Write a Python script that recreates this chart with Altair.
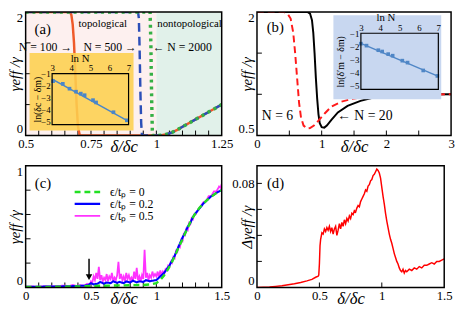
import altair as alt
import pandas as pd

FONT = "Liberation Serif"

# ---------------- panel (a) ----------------
a_n100_x = [0.5, 0.67, 0.675, 0.68, 0.685, 0.69, 0.695, 0.70, 0.707, 0.85, 1.0, 1.02, 1.04, 1.06, 1.08, 1.10, 1.15, 1.20, 1.25]
a_n100_y = [2.0, 2.0, 1.95, 1.8, 1.5, 1.0, 0.5, 0.15, 0.0, 0.0, 0.0, 0.005, 0.02, 0.05, 0.09, 0.14, 0.26, 0.38, 0.5]
a_n500_x = [0.5, 0.930, 0.933, 0.936, 0.939, 0.942, 0.945, 1.0, 1.02, 1.04, 1.06, 1.08, 1.10, 1.15, 1.20, 1.25]
a_n500_y = [2.0, 2.0, 1.9, 1.4, 0.7, 0.2, 0.0, 0.0, 0.005, 0.02, 0.05, 0.09, 0.14, 0.26, 0.38, 0.5]
a_n2000_x = [0.5, 0.976, 0.979, 0.982, 0.985, 1.0, 1.02, 1.04, 1.06, 1.08, 1.10, 1.15, 1.20, 1.25]
a_n2000_y = [2.0, 2.0, 1.5, 0.6, 0.0, 0.0, 0.005, 0.02, 0.05, 0.09, 0.14, 0.26, 0.38, 0.5]
a_xlabels = [0.5, 0.75, 1, 1.25]
a_ylabels = [0, 2]
a_xticks = [0.55, 0.6, 0.65, 0.7, 0.75, 0.8, 0.85, 0.9, 0.95, 1.0, 1.05, 1.1, 1.15, 1.2]
a_yticks = [0.5, 1.0, 1.5]
a_ins_lnN = [3.05, 3.56, 3.91, 4.25, 4.50, 4.70, 5.14, 5.30, 6.21, 6.91]
a_ins_val = [-1.62, -1.84, -2.24, -2.49, -2.65, -2.78, -3.19, -3.38, -4.19, -4.86]
a_fit_lnN = [3, 7]
a_fit_val = [-1.45, -4.95]
a_ins_labels = [3, 4, 5, 6, 7]
a_ins_ylabels = [-1, -2, -3, -4, -5]

# ---------------- panel (b) ----------------
b_n20_x = [0.0, 0.78, 0.82, 0.85, 0.87, 0.89, 0.91, 0.93, 0.95, 0.97, 1.0, 1.04, 1.08, 1.15, 1.25, 1.4, 1.6, 1.8, 2.1, 2.5, 3.0]
b_n20_y = [2.0, 2.0, 1.98, 1.9, 1.75, 1.5, 1.2, 0.95, 0.76, 0.65, 0.6, 0.595, 0.62, 0.69, 0.78, 0.86, 0.92, 0.96, 0.985, 0.997, 1.0]
b_n6_x = [0.0, 0.42, 0.47, 0.52, 0.56, 0.59, 0.62, 0.65, 0.68, 0.72, 0.77, 0.82, 0.88, 0.95, 1.05, 1.15, 1.3, 1.5, 1.8, 2.2, 3.0]
b_n6_y = [2.0, 2.0, 1.98, 1.92, 1.75, 1.5, 1.2, 0.9, 0.72, 0.62, 0.585, 0.59, 0.62, 0.68, 0.77, 0.85, 0.91, 0.95, 0.98, 0.995, 1.0]
b_xlabels = [0, 1, 2, 3]
b_ylabels = [0.5, 2]
b_xticks = [0.5, 1.0, 1.5, 2.0, 2.5]
b_yticks = [1.0, 1.5]
b_ins_lnN = [3.0, 3.29, 3.9, 4.1, 4.41, 4.64, 5.14, 5.41, 6.22, 6.95]
b_ins_val = [-1.8, -1.95, -2.3, -2.4, -2.6, -2.72, -3.1, -3.25, -3.85, -4.27]
b_fit_lnN = [3, 7]
b_fit_val = [-1.78, -4.3]
b_ins_labels = [3, 4, 5, 6, 7]
b_ins_ylabels = [-1, -2, -3, -4, -5]

# ---------------- panel (c) ----------------
c_labels = ["ϵ/tₚ = 0", "ϵ/tₚ = 0.2", "ϵ/tₚ = 0.5"]
c_g_x = [0.0, 0.2, 0.4, 0.5, 0.6, 0.7, 0.8, 0.9, 0.95, 1.0, 1.03, 1.06, 1.09, 1.12, 1.15, 1.18, 1.21, 1.24, 1.27, 1.30, 1.33, 1.36, 1.40, 1.45, 1.50]
c_g_y = [0.003, 0.005, 0.008, 0.012, 0.014, 0.016, 0.018, 0.02, 0.024, 0.035, 0.06, 0.1, 0.15, 0.21, 0.28, 0.35, 0.42, 0.49, 0.56, 0.61, 0.655, 0.69, 0.73, 0.77, 0.80]
c_b_x = [0.0, 0.05, 0.10, 0.15, 0.20, 0.25, 0.30, 0.35, 0.40, 0.45, 0.48, 0.50, 0.52, 0.55, 0.57, 0.60, 0.62, 0.65, 0.67, 0.70, 0.72, 0.75, 0.77, 0.80, 0.82, 0.85, 0.87, 0.90, 0.92, 0.95, 0.97, 1.00, 1.02, 1.04, 1.06, 1.08, 1.10, 1.12, 1.14, 1.16, 1.18, 1.20, 1.22, 1.24, 1.26, 1.28, 1.30, 1.33, 1.36, 1.39, 1.42, 1.45, 1.48, 1.50]
c_b_y = [0.005, 0.006, 0.005, 0.007, 0.008, 0.007, 0.009, 0.01, 0.012, 0.014, 0.02, 0.035, 0.025, 0.03, 0.045, 0.03, 0.04, 0.035, 0.05, 0.038, 0.045, 0.035, 0.05, 0.04, 0.055, 0.042, 0.05, 0.045, 0.06, 0.05, 0.055, 0.06, 0.08, 0.10, 0.12, 0.15, 0.18, 0.22, 0.26, 0.31, 0.36, 0.41, 0.45, 0.50, 0.53, 0.58, 0.61, 0.65, 0.69, 0.72, 0.75, 0.77, 0.79, 0.80]
c_m_x = [0.00, 0.05, 0.10, 0.15, 0.20, 0.25, 0.30, 0.33, 0.36, 0.39, 0.42, 0.45, 0.47, 0.49, 0.50, 0.51, 0.52, 0.53, 0.54, 0.55, 0.56, 0.57, 0.58, 0.59, 0.60,
         0.61, 0.62, 0.63, 0.64, 0.65, 0.66, 0.67, 0.68, 0.69, 0.70, 0.71, 0.72, 0.73, 0.74, 0.75, 0.76, 0.77, 0.78, 0.79, 0.80,
         0.81, 0.82, 0.83, 0.84, 0.85, 0.86, 0.87, 0.88, 0.89, 0.90, 0.91, 0.92, 0.93, 0.94, 0.95, 0.96, 0.97, 0.98, 0.99, 1.00,
         1.01, 1.02, 1.03, 1.04, 1.05, 1.06, 1.07, 1.08, 1.09, 1.10, 1.11, 1.12, 1.13, 1.14, 1.15, 1.16, 1.17, 1.18, 1.19, 1.20,
         1.21, 1.22, 1.23, 1.24, 1.25, 1.26, 1.27, 1.28, 1.29, 1.30, 1.32, 1.34, 1.36, 1.38, 1.40, 1.42, 1.44, 1.46, 1.48, 1.49, 1.50]
c_m_y = [0.005, 0.008, 0.006, 0.01, 0.008, 0.012, 0.015, 0.01, 0.02, 0.012, 0.018, 0.015, 0.03, 0.02, 0.05, 0.04, 0.09, 0.06, 0.12, 0.07, 0.17, 0.06, 0.10, 0.05, 0.08,
         0.06, 0.11, 0.05, 0.09, 0.07, 0.12, 0.05, 0.08, 0.06, 0.10, 0.21, 0.07, 0.11, 0.06, 0.09, 0.05, 0.12, 0.07, 0.10, 0.06,
         0.08, 0.05, 0.13, 0.07, 0.16, 0.06, 0.09, 0.05, 0.10, 0.07, 0.31, 0.08, 0.12, 0.06, 0.10, 0.08, 0.13, 0.09, 0.11, 0.09,
         0.13, 0.08, 0.14, 0.10, 0.13, 0.11, 0.15, 0.14, 0.18, 0.17, 0.21, 0.20, 0.25, 0.24, 0.30, 0.29, 0.34, 0.33, 0.39, 0.38,
         0.44, 0.43, 0.48, 0.47, 0.53, 0.52, 0.57, 0.56, 0.60, 0.60, 0.64, 0.67, 0.70, 0.71, 0.75, 0.75, 0.79, 0.79, 0.83, 0.82, 0.85]
c_xlabels = [0, 0.5, 1, 1.5]
c_ylabels = [0, 1]
c_xticks = [0.1, 0.2, 0.3, 0.4, 0.5, 0.6, 0.7, 0.8, 0.9, 1.0, 1.1, 1.2, 1.3, 1.4]
c_yticks = [0.2, 0.4, 0.6, 0.8]

# ---------------- panel (d) ----------------
d_x = [0.00, 0.05, 0.10, 0.15, 0.20, 0.25, 0.30, 0.35, 0.40, 0.44, 0.47, 0.49, 0.495, 0.50, 0.505, 0.51,
       0.52, 0.53, 0.54, 0.55, 0.56, 0.57, 0.58, 0.59, 0.60, 0.61, 0.62, 0.63, 0.64, 0.65, 0.66, 0.67, 0.68, 0.69, 0.70,
       0.71, 0.72, 0.73, 0.74, 0.75, 0.76, 0.77, 0.78, 0.79, 0.80, 0.81, 0.82, 0.83, 0.84, 0.85, 0.86, 0.87, 0.88, 0.89, 0.90,
       0.91, 0.92, 0.93, 0.94, 0.95, 0.96, 0.97, 0.98, 0.99, 1.00, 1.01, 1.02, 1.03, 1.04, 1.05, 1.06, 1.07, 1.08, 1.09, 1.10,
       1.11, 1.12, 1.13, 1.14, 1.15, 1.16, 1.17, 1.18, 1.19, 1.20, 1.22, 1.24, 1.26, 1.28, 1.30, 1.32, 1.34, 1.36, 1.38, 1.40,
       1.42, 1.44, 1.46, 1.48, 1.50]
d_y = [0.0, 0.0002, 0.0004, 0.0008, 0.0013, 0.0020, 0.0028, 0.0038, 0.0050, 0.0062, 0.0078, 0.0086, 0.0095, 0.018, 0.032, 0.037,
       0.042, 0.041, 0.045, 0.043, 0.046, 0.044, 0.047, 0.043, 0.046, 0.041, 0.045, 0.047, 0.040, 0.044, 0.049, 0.045, 0.050, 0.047, 0.052,
       0.049, 0.053, 0.051, 0.055, 0.053, 0.057, 0.056, 0.059, 0.058, 0.061, 0.063, 0.062, 0.066, 0.068, 0.070, 0.072, 0.075, 0.074, 0.078, 0.079,
       0.082, 0.083, 0.086, 0.087, 0.089, 0.091, 0.090, 0.088, 0.084, 0.077, 0.070, 0.064, 0.057, 0.051, 0.046, 0.041, 0.037, 0.034, 0.030, 0.026,
       0.023, 0.020, 0.018, 0.015, 0.013, 0.012, 0.014, 0.011, 0.013, 0.012, 0.014, 0.013, 0.015, 0.014, 0.016, 0.015, 0.017, 0.017, 0.018, 0.019,
       0.018, 0.020, 0.020, 0.021, 0.022]
d_xlabels = [0, 0.5, 1, 1.5]
d_ylabels = [0, 0.08]
d_xticks = [0.5, 1.0]
d_yticks = [0.02, 0.04, 0.06, 0.08]

FMT = ".3~g"


def D(**kw):
    return pd.DataFrame(kw)


def xy(xs, xax, ys, yax):
    X = lambda f: alt.X(f, type="quantitative", scale=xs, axis=xax)
    Y = lambda f: alt.Y(f, type="quantitative", scale=ys, axis=yax)
    return X, Y


def line(x, y, X, Y, **style):
    return alt.Chart(D(x=x, y=y)).mark_line(**style).encode(x=X("x"), y=Y("y"))


def rect(x0, x1, y0, y1, X, Y, **style):
    return alt.Chart(D(x0=[x0], x1=[x1], y0=[y0], y1=[y1])).mark_rect(**style).encode(
        x=X("x0"), x2="x1", y=Y("y0"), y2="y1")


def frame(x0, x1, y0, y1, X, Y, w=1.5):
    return rect(x0, x1, y0, y1, X, Y, fillOpacity=0, stroke="black", strokeWidth=w)


def text(xs, ys, ts, X, Y, **style):
    return alt.Chart(D(x=xs, y=ys, t=ts)).mark_text(font=FONT, color="black", **style).encode(
        x=X("x"), y=Y("y"), text="t:N")


def xticks(vals, X, H):
    return alt.Chart(D(t=vals)).mark_rule(color="black", strokeWidth=1).encode(
        x=X("t"), y=alt.value(H), y2=alt.value(H - 5))


def yticks(vals, Y):
    return alt.Chart(D(t=vals)).mark_rule(color="black", strokeWidth=1).encode(
        y=Y("t"), x=alt.value(0), x2=alt.value(5))


def xaxis(vals, title):
    return alt.Axis(values=vals, format=FMT, title=title, titleY=3, titleBaseline="top",
                    labelFlush=False, titleFontSize=17, titleFontStyle="italic")


def yaxis(vals, title):
    return alt.Axis(values=vals, format=FMT, title=title, titleX=-3, titleBaseline="bottom",
                    labelFlush=True, titleFontSize=15, titleFontStyle="italic")


def inset_axes(xr0, ytop, title_y, tx, lnx):
    ax = alt.Axis(orient="top", offset=-ytop, values=[3, 4, 5, 6, 7], format=FMT, labelFontSize=9,
                  labelPadding=1, title="ln N", titleFontSize=11, titleX=lnx, titleY=-10.5,
                  titleBaseline="bottom", labelFlush=False, titleFontStyle="normal", zindex=2)
    ay = alt.Axis(orient="left", offset=-xr0, values=[-1, -2, -3, -4, -5], format=FMT, labelFontSize=9,
                  labelPadding=2, title=title_y, titleFontSize=10, titleX=tx, titleBaseline="bottom",
                  labelFlush=False, titleFontStyle="normal", zindex=2)
    return ax, ay


# ---------------- build (a) ----------------
WA, HA = 200, 126
XA, YA = xy(alt.Scale(domain=[0.5, 1.25], nice=False, zero=False), xaxis(a_xlabels, "δ/δc"),
            alt.Scale(domain=[0, 2], nice=False, zero=False), yaxis(a_ylabels, "γeff /γ"))
main_a = alt.layer(
    rect(0.5, 1.0, 0, 2, XA, YA, color="#fdf0ef"),
    rect(1.0, 1.25, 0, 2, XA, YA, color="#e1f1ea"),
    xticks(a_xticks, XA, HA),
    yticks(a_yticks, YA),
    line(a_n100_x, a_n100_y, XA, YA, color="#ef5a2a", strokeWidth=2.5, clip=True),
    line(a_n500_x, a_n500_y, XA, YA, color="#2c4fb8", strokeWidth=2.5, strokeDash=[9, 5], clip=True),
    line(a_n2000_x, a_n2000_y, XA, YA, color="#35b045", strokeWidth=3.5, strokeDash=[3, 4], clip=True),
    text([0.534], [1.72], ["(a)"], XA, YA, align="left", baseline="middle", fontSize=15),
    text([0.795, 1.127], [1.8, 1.8], ["topological", "nontopological"], XA, YA, align="center",
         baseline="middle", fontSize=11),
    text([0.678, 0.925], [1.43, 1.43], ["N = 100 →", "N = 500 →"], XA, YA, align="right",
         baseline="middle", fontSize=12),
    text([0.986], [1.43], ["← N = 2000"], XA, YA, align="left", baseline="middle", fontSize=12),
    frame(0.5, 1.25, 0, 2, XA, YA),
)
iax, iay = inset_axes(27, 63, "ln(δc − δm)", -10, 55)
IXA, IYA = xy(alt.Scale(domain=[3, 7], range=[27, 105], nice=False, zero=False), iax,
              alt.Scale(domain=[-5.22, -1], range=[115, 63], nice=False, zero=False), iay)
inset_a = alt.layer(
    rect(1.82, 7.26, -5.71, 0.71, IXA, IYA, color="#fdcf4f", opacity=0.88),
    line(a_fit_lnN, a_fit_val, IXA, IYA, color="#4a86c8", strokeWidth=1.5),
    alt.Chart(D(x=a_ins_lnN, y=a_ins_val)).mark_point(shape="square", filled=True, size=14,
                                                      color="#4a86c8", opacity=1).encode(x=IXA("x"), y=IYA("y")),
    frame(3, 7, -5.22, -1, IXA, IYA, w=1.2),
)
panel_a = alt.layer(main_a, inset_a).resolve_scale(x="independent", y="independent").properties(
    width=WA, height=HA)

# ---------------- build (b) ----------------
WB, HB = 198, 126
XB, YB = xy(alt.Scale(domain=[0, 3], nice=False, zero=False), xaxis(b_xlabels, "δ/δc"),
            alt.Scale(domain=[0.5, 2], nice=False, zero=False), yaxis(b_ylabels, "γeff /γ"))
main_b = alt.layer(
    xticks(b_xticks, XB, HB),
    yticks(b_yticks, YB),
    line(b_n20_x, b_n20_y, XB, YB, color="black", strokeWidth=2, clip=True),
    line(b_n6_x, b_n6_y, XB, YB, color="#ff1a1a", strokeWidth=2, strokeDash=[7, 4], clip=True),
    text([0.15], [1.81], ["(b)"], XB, YB, align="left", baseline="middle", fontSize=15),
    text([0.075], [0.74], ["N = 6"], XB, YB, align="left", baseline="middle", fontSize=14),
    text([1.24], [0.74], ["← N = 20"], XB, YB, align="left", baseline="middle", fontSize=14),
    frame(0, 3, 0.5, 2, XB, YB),
)
ibx, iby = inset_axes(106, 21.7, "ln(δ′m − δm)", -15.5, 131)
IXB, IYB = xy(alt.Scale(domain=[3, 7], range=[106, 185], nice=False, zero=False), ibx,
              alt.Scale(domain=[-5.3, -1], range=[79, 21.7], nice=False, zero=False), iby)
inset_b = alt.layer(
    rect(1.58, 7.15, -6.05, 0.38, IXB, IYB, color="#c8d7f0"),
    line(b_fit_lnN, b_fit_val, IXB, IYB, color="#4f86c6", strokeWidth=1.5),
    alt.Chart(D(x=b_ins_lnN, y=b_ins_val)).mark_point(shape="square", filled=True, size=14,
                                                      color="#4f86c6", opacity=1).encode(x=IXB("x"), y=IYB("y")),
    frame(3, 7, -5.3, -1, IXB, IYB, w=1.2),
)
panel_b = alt.layer(main_b, inset_b).resolve_scale(x="independent", y="independent").properties(
    width=WB, height=HB)

# ---------------- build (c) ----------------
WC, HC = 200, 124
XC, YC = xy(alt.Scale(domain=[0, 1.5], nice=False, zero=False), xaxis(c_xlabels, "δ/δc"),
            alt.Scale(domain=[0, 1], nice=False, zero=False), yaxis(c_ylabels, "γeff /γ"))
col = alt.Color("s:N", scale=alt.Scale(domain=c_labels, range=["#22e022", "#0000ff", "#ff33ff"]), legend=None)
dsh = alt.StrokeDash("s:N", scale=alt.Scale(domain=c_labels, range=[[6, 4], [1, 0], [1, 0]]), legend=None)
wid = alt.StrokeWidth("s:N", scale=alt.Scale(domain=c_labels, range=[2.4, 1.8, 1.6]), legend=None)


def cline(x, y, lab):
    return alt.Chart(D(x=x, y=y, s=[lab] * len(x))).mark_line(clip=True).encode(
        x=XC("x"), y=YC("y"), color=col, strokeDash=dsh, strokeWidth=wid)


legend_rows = alt.Chart(D(x=[0.375] * 3, x2=[0.57] * 3, y=[0.785, 0.687, 0.589], s=c_labels)).mark_rule().encode(
    x=XC("x"), x2="x2", y=YC("y"), color=col, strokeDash=dsh, strokeWidth=wid)
legend_text = text([0.645] * 3, [0.785, 0.687, 0.589], c_labels, XC, YC, align="left", baseline="middle",
                   fontSize=12)

panel_c = alt.layer(
    xticks(c_xticks, XC, HC),
    yticks(c_yticks, YC),
    cline(c_m_x, c_m_y, c_labels[2]),
    cline(c_b_x, c_b_y, c_labels[1]),
    cline(c_g_x, c_g_y, c_labels[0]),
    legend_rows,
    legend_text,
    alt.Chart(D(x=[0.485], y=[0.235], y2=[0.1])).mark_rule(color="black", strokeWidth=1.5).encode(
        x=XC("x"), y=YC("y"), y2="y2"),
    alt.Chart(D(x=[0.485], y=[0.085])).mark_point(shape="triangle-down", filled=True, size=45,
                                                 color="black", opacity=1).encode(x=XC("x"), y=YC("y")),
    text([0.07], [0.86], ["(c)"], XC, YC, align="left", baseline="middle", fontSize=15),
    frame(0, 1.5, 0, 1, XC, YC),
).properties(width=WC, height=HC)

# ---------------- build (d) ----------------
WD, HD = 191, 124
XD, YD = xy(alt.Scale(domain=[0, 1.5], nice=False, zero=False), xaxis(d_xlabels, "δ/δc"),
            alt.Scale(domain=[0, 0.0935], nice=False, zero=False), yaxis(d_ylabels, "Δγeff /γ"))
panel_d = alt.layer(
    xticks(d_xticks, XD, HD),
    yticks(d_yticks, YD),
    line(d_x, d_y, XD, YD, color="#ff0000", strokeWidth=1.5, clip=True),
    text([0.08], [0.080], ["(d)"], XD, YD, align="left", baseline="middle", fontSize=15),
    frame(0, 1.5, 0, 0.0935, XD, YD),
).properties(width=WD, height=HD)

chart = alt.concat(
    panel_a, panel_b, panel_c, panel_d, columns=2, spacing={"row": 31, "column": 36}, bounds="flush",
    padding=0,
).resolve_scale(color="independent", strokeDash="independent", strokeWidth="independent").configure(
    font=FONT).configure_view(stroke=None).configure_axis(
    grid=False, domain=False, ticks=False, labelFont=FONT, titleFont=FONT, labelFontSize=13,
    labelColor="black", titleColor="black", titleFontWeight="normal", labelPadding=2,
).configure_axisY(labelPadding=3)

chart.save("out.html", embed_options={"renderer": "svg", "actions": False})
